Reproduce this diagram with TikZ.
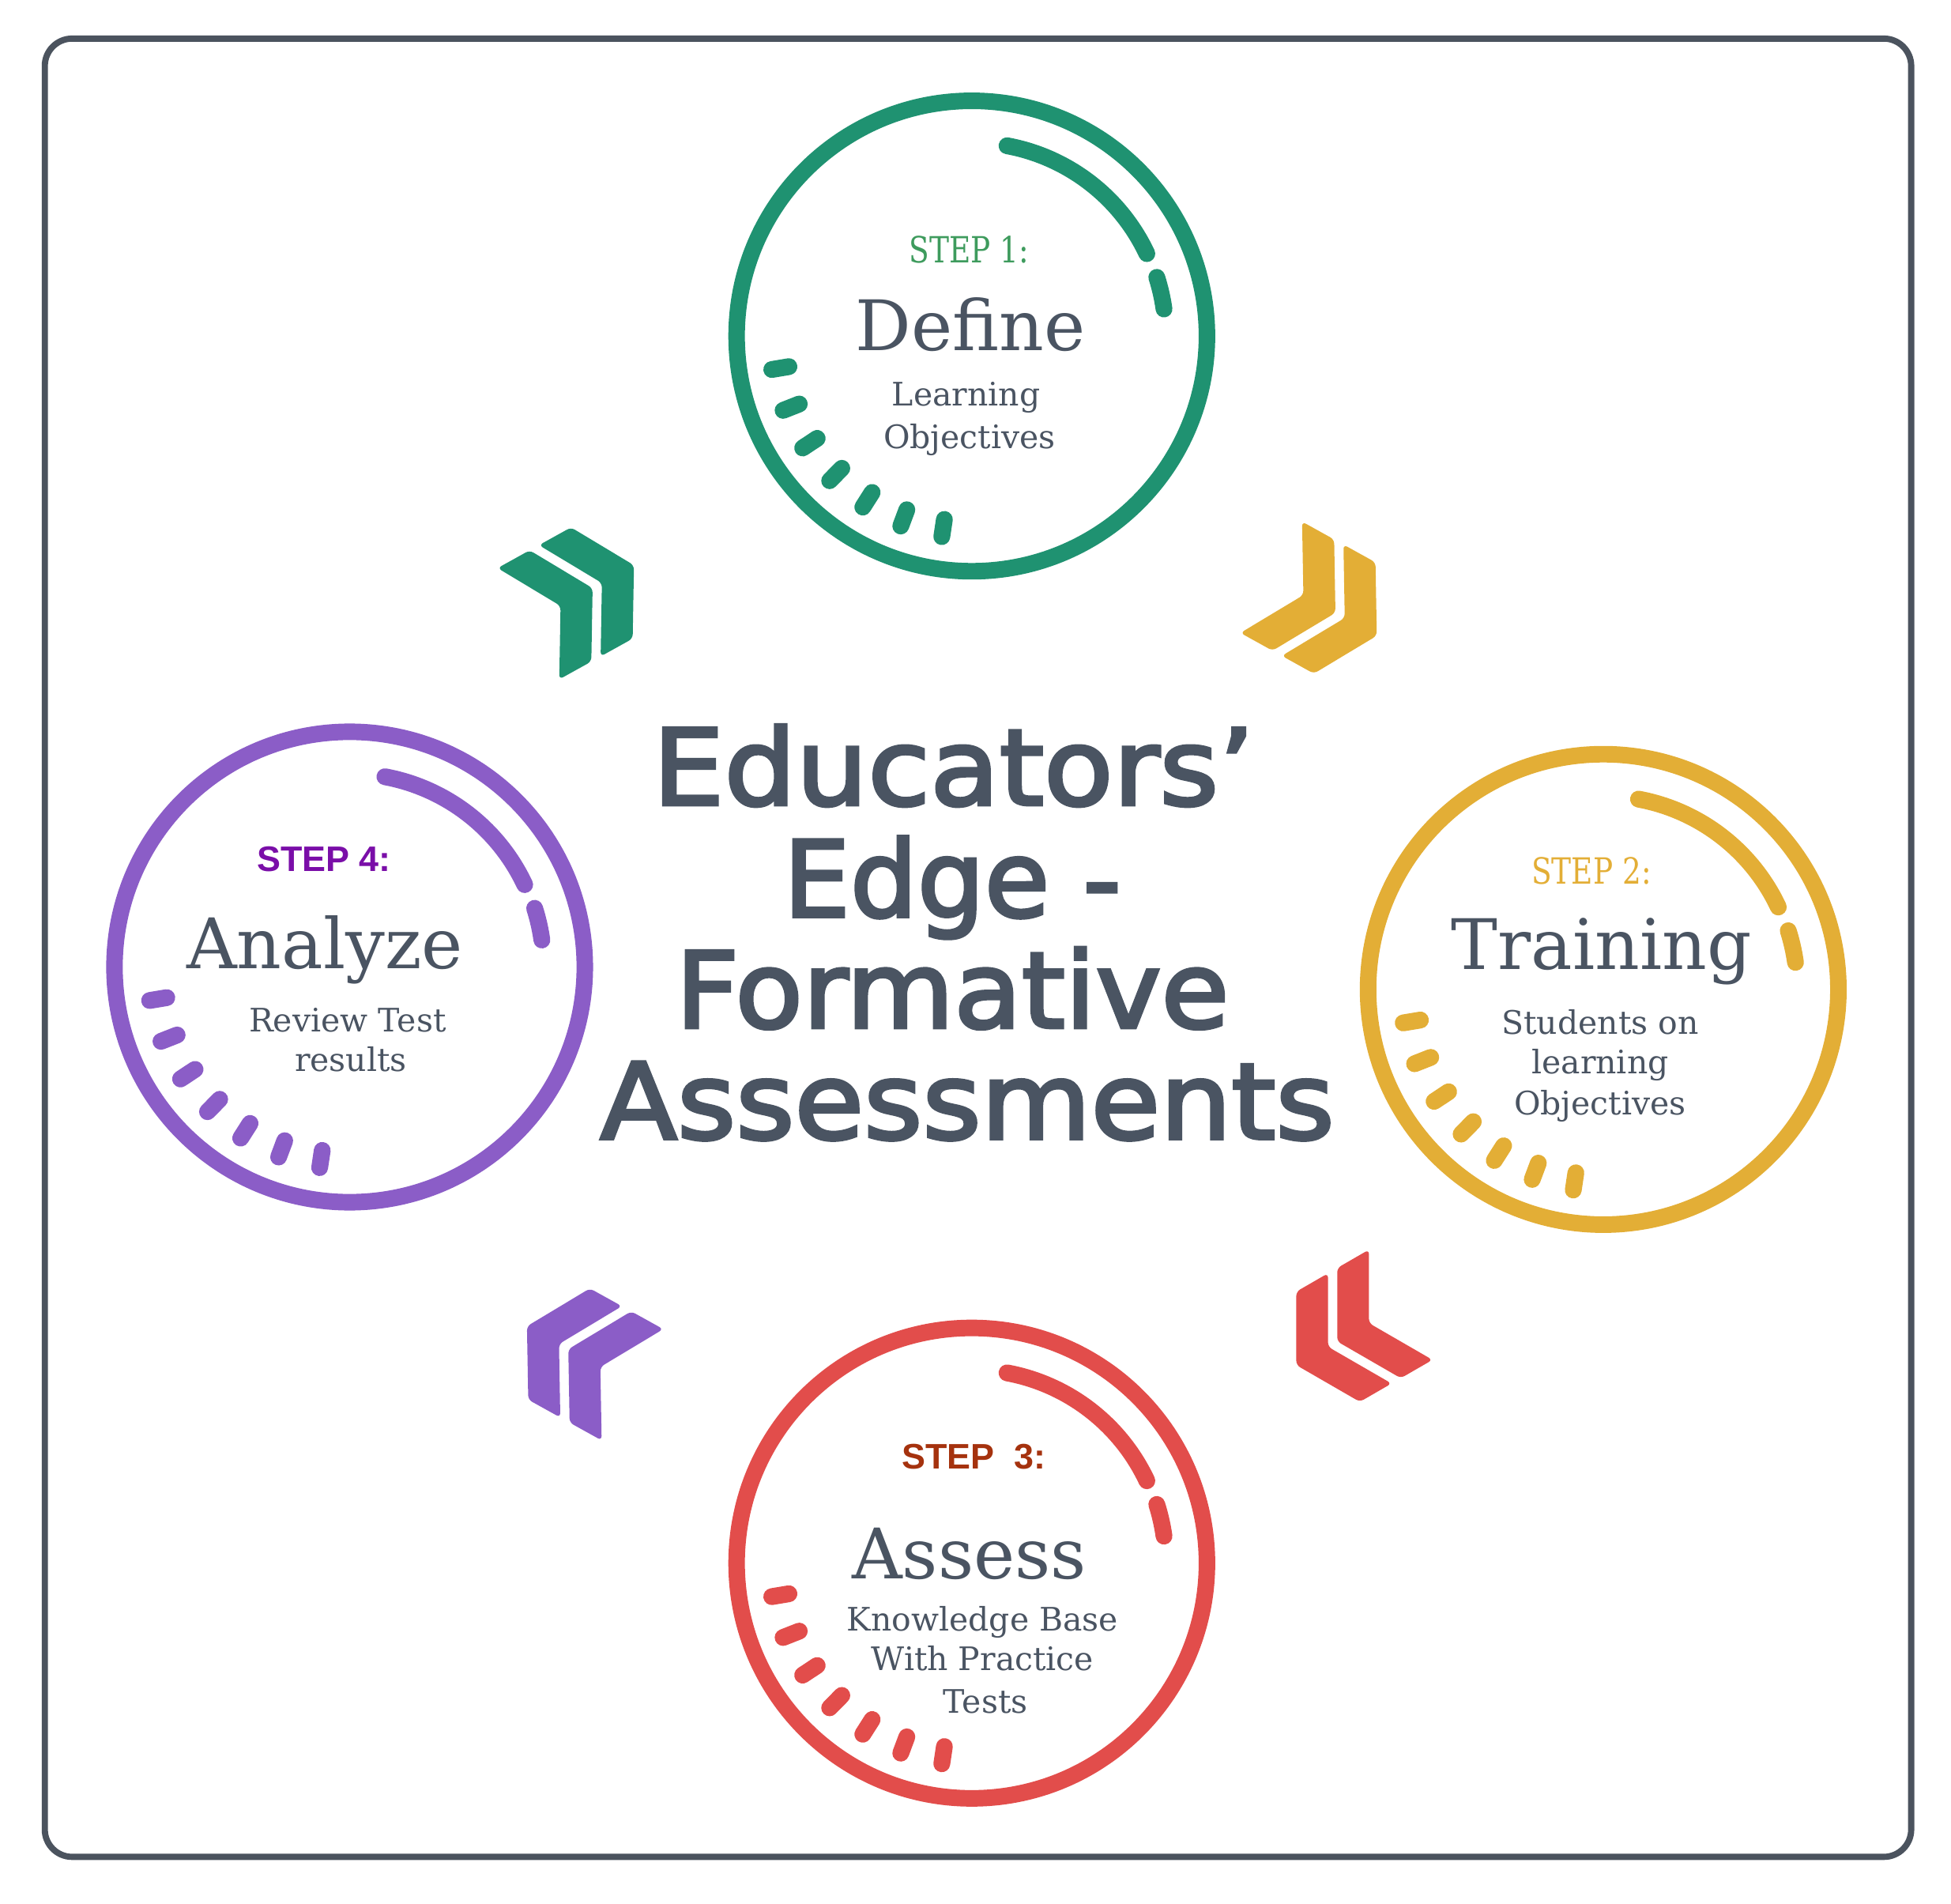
\documentclass[tikz,border=0pt]{standalone}
\usepackage{fontspec}
\setmainfont{DejaVu Serif}
\newfontfamily\titlefont[FakeBold=3]{DejaVu Sans}
\newfontfamily\stepsans{Liberation Sans}
\usetikzlibrary{calc}
\definecolor{cgreen}{HTML}{1F9271}
\definecolor{cgreentxt}{HTML}{3E9B5D}
\definecolor{cyellow}{HTML}{E3AE36}
\definecolor{cred}{HTML}{E24D4B}
\definecolor{cpurple}{HTML}{8B5DC7}
\definecolor{cstepthree}{HTML}{A5320E}
\definecolor{cstepfour}{HTML}{7A0EA8}
\definecolor{cgray}{HTML}{4A5462}
\definecolor{cframe}{HTML}{4B535E}
\newcommand\ringdeco[2]{%
  \begin{scope}[shift={(#1.center)}, color=#2, line width=13.5, line cap=round]
    \draw (-79.5:155.5) arc[start angle=-79.5, end angle=-25.2, radius=155.5];
    \draw (-17.6:156) arc[start angle=-17.6, end angle=-8, radius=156];
    \foreach \a in {189.5,201.5,...,261.5} \draw (-\a:149) -- (-\a:163);
  \end{scope}}
\newcommand\chevpair[3]{%
  \begin{scope}[shift={#1}, rotate=#2]
    \foreach \s in {19,-19}
      \fill[#3, rounded corners=3.5] (\s+14.72,0) -- (\s-14.78,51.1) -- (\s-44.22,51.1)
        -- (\s-14.72,0) -- (\s-44.22,-51.1) -- (\s-14.78,-51.1) -- cycle;
  \end{scope}}
\begin{document}
\begin{tikzpicture}[x=1pt, y=-1pt,
  ring/.style={circle, draw=#1, line width=13.3, minimum size=378, inner sep=0},
  steptxt/.style={anchor=base, inner sep=0, font=\fontsize{29}{29}\selectfont},
  stepsanstxt/.style={anchor=base, inner sep=0, font=\stepsans\bfseries\fontsize{28.5}{28.5}\selectfont},
  headtxt/.style={anchor=base, inner sep=0, text=cgray, font=\fontsize{56}{56}\selectfont},
  subtxt/.style={anchor=base, inner sep=0, text=cgray, font=\fontsize{26}{26}\selectfont},
  titletxt/.style={anchor=base, inner sep=0, text=cgray, font=\titlefont\fontsize{85}{85}\selectfont}]
  \path[use as bounding box] (0,0) rectangle (1568,1529.5);
  \draw[cframe, line width=5, rounded corners=22] (36,31) rectangle (1536,1492);

  % circles
  \node[ring=cgreen] (c1) at (781,270) {};
  \node[ring=cyellow] (c2) at (1288.5,795) {};
  \node[ring=cred] (c3) at (781,1256) {};
  \node[ring=cpurple] (c4) at (281,777) {};
  \ringdeco{c1}{cgreen}
  \ringdeco{c2}{cyellow}
  \ringdeco{c3}{cred}
  \ringdeco{c4}{cpurple}

  % chevrons
  \chevpair{(480,470.5)}{29}{cgreen}
  \chevpair{(1077,494.5)}{-29}{cyellow}
  \chevpair{(1071,1080)}{210}{cred}
  \chevpair{(453,1082)}{151}{cpurple}

  % step 1
  \node[steptxt, text=cgreentxt] (s1) at (779,211.4) {\scalebox{0.82}[1]{STEP 1:}};
  \node[headtxt] (h1) at (780,281.5) {Define};
  \node[subtxt] (a1) at (776.5,326.2) {Learning};
  \node[subtxt] (b1) at (779.2,360.6) {Objectives};
  % step 2
  \node[steptxt, text=cyellow] (s2) at (1279,710.5) {\scalebox{0.82}[1]{STEP 2:}};
  \node[headtxt] (h2) at (1287,778.6) {Training};
  \node[subtxt] (a2) at (1286,831) {Students on};
  \node[subtxt] (b2) at (1286,862.8) {learning};
  \node[subtxt] (d2) at (1286,896) {Objectives};
  % step 3
  \node[stepsanstxt, text=cstepthree] (s3) at (782.5,1180.3) {STEP\ \ 3:};
  \node[headtxt] (h3) at (779,1268.3) {Assess};
  \node[subtxt] (a3) at (789.6,1310.4) {Knowledge Base};
  \node[subtxt] (b3) at (789.6,1342.3) {With Practice};
  \node[subtxt] (d3) at (792,1376.7) {Tests};
  % step 4
  \node[stepsanstxt, text=cstepfour] (s4) at (260.4,700.2) {STEP 4:};
  \node[headtxt] (h4) at (261,778.1) {Analyze};
  \node[subtxt] (a4) at (279.3,829.1) {Review Test};
  \node[subtxt] (b4) at (282,861) {results};

  % title
  \node[titletxt] (t1) at (766.4,646.8) {\scalebox{1.07}[1]{Educators’}};
  \node[titletxt] (t2) at (765.4,736.6) {Edge -};
  \node[titletxt] (t3) at (765.4,825.8) {\scalebox{1.045}[1]{Formative}};
  \node[titletxt] (t4) at (777.4,915.1) {\scalebox{1.065}[1]{Assessments}};
\end{tikzpicture}
\end{document}
